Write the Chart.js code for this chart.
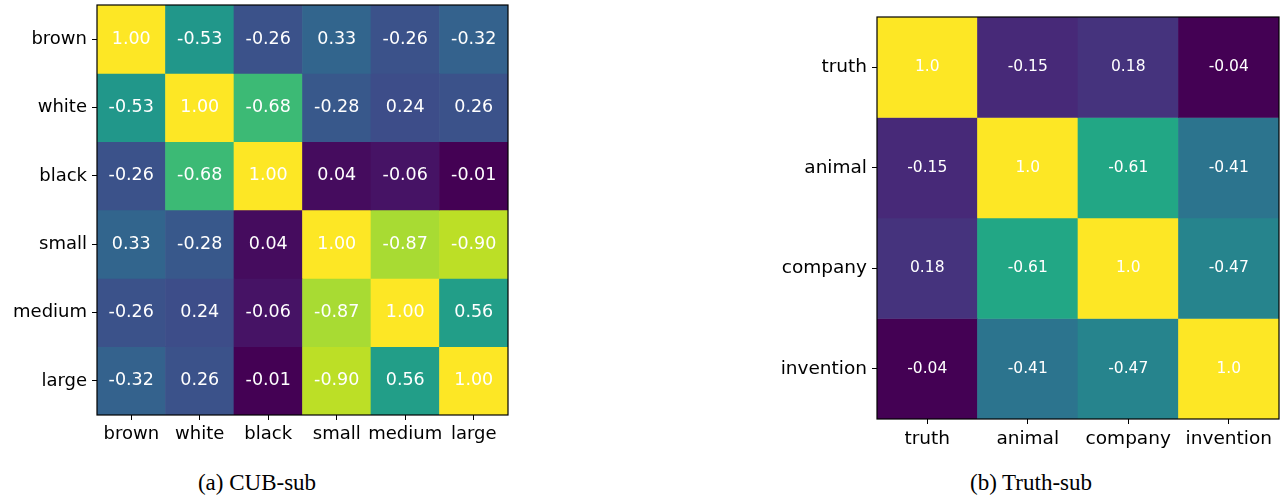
<!DOCTYPE html>
<html>
<head>
<meta charset="utf-8">
<script src="https://cdn.jsdelivr.net/npm/chart.js@4"></script>
<style>
  html, body { margin: 0; padding: 0; background: #ffffff; width: 1280px; height: 497px; overflow: hidden; }
  canvas { position: absolute; }
  .cap { position: absolute; font-family: "Liberation Serif", "Times New Roman", serif; font-size: 23px; line-height: 26px; color: #000; white-space: nowrap; transform: translateX(-50%); }
</style>
</head>
<body>
<canvas id="cub" width="520" height="460" style="left:0px;top:0px;"></canvas>
<canvas id="truth" width="580" height="460" style="left:700px;top:0px;"></canvas>
<div class="cap" style="left:257px;top:470px;">(a) CUB-sub</div>
<div class="cap" style="left:1031px;top:470px;">(b) Truth-sub</div>
<script>
// ---- data ----
const cubLabels = ['brown', 'white', 'black', 'small', 'medium', 'large'];
const cubValues = [
  [1.00, -0.53, -0.26, 0.33, -0.26, -0.32],
  [-0.53, 1.00, -0.68, -0.28, 0.24, 0.26],
  [-0.26, -0.68, 1.00, 0.04, -0.06, -0.01],
  [0.33, -0.28, 0.04, 1.00, -0.87, -0.90],
  [-0.26, 0.24, -0.06, -0.87, 1.00, 0.56],
  [-0.32, 0.26, -0.01, -0.90, 0.56, 1.00]
];
const truthLabels = ['truth', 'animal', 'company', 'invention'];
const truthValues = [
  [1.0, -0.15, 0.18, -0.04],
  [-0.15, 1.0, -0.61, -0.41],
  [0.18, -0.61, 1.0, -0.47],
  [-0.04, -0.41, -0.47, 1.0]
];

// ---- viridis colormap stops (style) ----
const viridisStops = ['#440154','#482475','#414487','#355f8d','#2a788e','#21918c','#22a884','#44bf70','#7ad151','#bddf26','#fde725'];
function hexToRgb(h) { return [parseInt(h.slice(1,3),16), parseInt(h.slice(3,5),16), parseInt(h.slice(5,7),16)]; }
function viridis(t) {
  t = Math.max(0, Math.min(1, t));
  const p = t * (viridisStops.length - 1);
  const i = Math.min(Math.floor(p), viridisStops.length - 2);
  const f = p - i;
  const a = hexToRgb(viridisStops[i]), b = hexToRgb(viridisStops[i + 1]);
  const c = a.map((v, k) => Math.round(v + (b[k] - v) * f));
  return 'rgb(' + c.join(',') + ')';
}

function fmt2(v) { return v.toFixed(2); }
function fmtPy(v) { return Number.isInteger(v) ? v.toFixed(1) : String(v); }

const cellLabelPlugin = {
  id: 'cellLabels',
  afterDatasetsDraw(chart, args, opts) {
    const ctx = chart.ctx;
    ctx.save();
    ctx.fillStyle = '#ffffff';
    ctx.font = opts.size + 'px "DejaVu Sans"';
    ctx.textAlign = 'center';
    ctx.textBaseline = 'middle';
    chart.data.datasets.forEach((ds, di) => {
      const meta = chart.getDatasetMeta(di);
      meta.data.forEach((el, j) => {
        const y = (el.y + el.base) / 2;
        ctx.fillText(opts.format(ds.cellValues[j]), el.x, y);
      });
    });
    ctx.restore();
  },
  afterDraw(chart) {
    const a = chart.chartArea;
    const ctx = chart.ctx;
    ctx.save();
    ctx.strokeStyle = '#000';
    ctx.lineWidth = 1.2;
    ctx.strokeRect(a.left, a.top, a.right - a.left, a.bottom - a.top);
    ctx.restore();
  }
};

function zeroPad(s) { s.paddingTop = 0; s.paddingBottom = 0; s.paddingLeft = 0; s.paddingRight = 0; }

function makeHeatmap(id, labels, values, cfg) {
  const vals = values.flat().map(Math.abs);
  const lo = Math.min(...vals), hi = Math.max(...vals);
  const n = labels.length;
  const datasets = values.map((row, i) => ({
    label: labels[i],
    data: labels.map(() => 1),
    cellValues: row,
    backgroundColor: row.map(v => viridis((Math.abs(v) - lo) / (hi - lo))),
    borderWidth: 0,
    barPercentage: 1,
    categoryPercentage: 1
  }));
  new Chart(document.getElementById(id), {
    type: 'bar',
    data: { labels: labels, datasets: datasets },
    options: {
      responsive: false,
      animation: false,
      layout: { padding: { left: 0, right: cfg.padRight, top: cfg.padTop, bottom: 0 } },
      plugins: {
        legend: { display: false },
        tooltip: { enabled: false },
        cellLabels: { size: cfg.cellFont, format: cfg.format }
      },
      scales: {
        x: {
          stacked: true,
          grid: { offset: false, drawOnChartArea: false, drawTicks: true, tickLength: 5, color: '#000', lineWidth: 1 },
          border: { display: false },
          ticks: { color: '#000', font: { family: 'DejaVu Sans', size: cfg.tickFont }, padding: cfg.xPad, maxRotation: 0, autoSkip: false },
          afterFit(s) { s.height = cfg.xHeight; zeroPad(s); }
        },
        y: {
          type: 'linear',
          stacked: true,
          min: 0,
          max: n,
          reverse: true,
          afterBuildTicks(s) { s.ticks = labels.map((_, i) => ({ value: i + 0.5 })); },
          grid: { drawOnChartArea: false, drawTicks: true, tickLength: 5, color: '#000', lineWidth: 1 },
          border: { display: false },
          ticks: {
            color: '#000', font: { family: 'DejaVu Sans', size: cfg.tickFont }, padding: cfg.yPad,
            autoSkip: false,
            callback: (v, idx) => labels[idx]
          },
          afterFit(s) { s.width = cfg.yWidth; zeroPad(s); }
        }
      }
    },
    plugins: [cellLabelPlugin]
  });
}

makeHeatmap('cub', cubLabels, cubValues, {
  padRight: 12, padTop: 5, yWidth: 97, xHeight: 45,
  tickFont: 18, cellFont: 17.5, xPad: 4, yPad: 5, format: fmt2
});
makeHeatmap('truth', truthLabels, truthValues, {
  padRight: 1, padTop: 17, yWidth: 177, xHeight: 41,
  tickFont: 18.5, cellFont: 15.5, xPad: 4, yPad: 5, format: fmtPy
});
</script>
</body>
</html>
